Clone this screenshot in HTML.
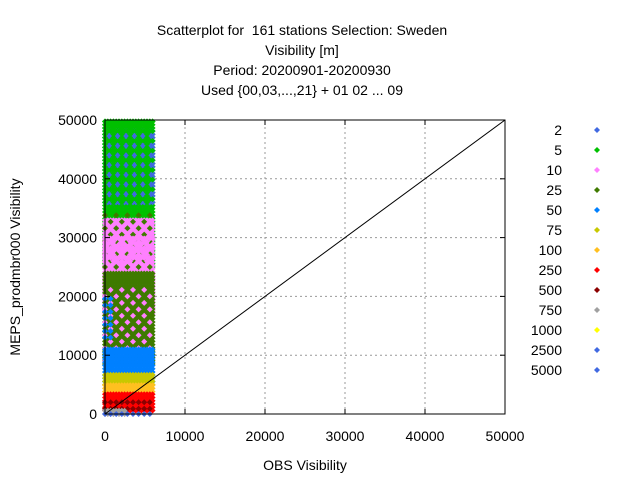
<!DOCTYPE html>
<html><head><meta charset="utf-8"><style>
body{margin:0;background:#fff;}
svg{font-family:"Liberation Sans",sans-serif;font-size:14px;}
text{white-space:pre;}
</style></head><body>
<svg id="chart" width="640" height="480">
<g text-anchor="middle" fill="#000">
<text x="302" y="35" xml:space="preserve">Scatterplot for  161 stations Selection: Sweden</text>
<text x="302" y="55">Visibility [m]</text>
<text x="302" y="75">Period: 20200901-20200930</text>
<text x="302" y="95">Used {00,03,...,21} + 01 02 ... 09</text>
</g>
<g id="grid"></g>
<g id="pts"></g>
<g id="axes"></g>
<text x="305" y="470" text-anchor="middle">OBS Visibility</text>
<text transform="translate(20,267) rotate(-90)" text-anchor="middle">MEPS_prodmbr000 Visibility</text>
<g id="legend"></g>
</svg>
<script>
const ticks = [0,10000,20000,30000,40000,50000];
const categories = ["2","5","10","25","50","75","100","250","500","750","1000","2500","5000"];
const catColors = ["#4169e1","#00c000","#ff80ff","#3f7a00","#0080ff","#c8c800","#ffc020","#ff0000","#8b0000","#a0a0a0","#ffff00","#4169e1","#4169e1"];
// bands drawn in order: category, y-low, y-high, obs x-max, sparsity
const bandCats  = ["5","2","5","10","25","10","25","50","10","50","75","100","250","500","750","2500"];
const bandLow   = [25000,36000,36000,17000,8500,9000,25000,5500,26000,13000,5000,3800,600,900,0,0];
const bandHigh  = [50000,48500,50000,33000,24000,22000,34000,11000,30000,20000,7000,5000,3800,2300,700,300];
const bandXMax  = [6000,6000,6000,6000,6000,6000,6000,6000,6000,1000,6000,6000,6000,6000,2500,6000];
const bandSparse= [1,1,3,1,1,4,4,1,3,2,1,1,1,2,1,2];

const X0=105,X1=505,Y0=414,Y1=120;
const xs=v=>X0+(v/50000)*(X1-X0);
const ys=v=>Y0-(v/50000)*(Y0-Y1);
const NS="http://www.w3.org/2000/svg";
function mk(t,a,p){const e=document.createElementNS(NS,t);for(const k in a)e.setAttribute(k,a[k]);p.appendChild(e);return e;}
const grid=document.getElementById('grid'),axes=document.getElementById('axes'),pts=document.getElementById('pts'),leg=document.getElementById('legend');
ticks.forEach(t=>{
  if(t>0&&t<50000){
    const gl=mk('line',{x1:xs(t),x2:xs(t),y1:Y0,y2:Y1,stroke:'#999','stroke-dasharray':'2,3','stroke-width':1},grid);
    
    
    const gh=mk('line',{x1:X0,x2:X1,y1:ys(t),y2:ys(t),stroke:'#999','stroke-dasharray':'2,3','stroke-width':1},grid);
    
    
  }
  const tx=mk('text',{x:xs(t),y:441,'text-anchor':'middle'},axes);tx.textContent=t;
  
  
  const ty=mk('text',{x:97,y:ys(t)+5,'text-anchor':'end'},axes);ty.textContent=t;
  
  
  mk('line',{x1:xs(t),x2:xs(t),y1:Y0,y2:Y0-5,stroke:'#000'},axes);
  mk('line',{x1:xs(t),x2:xs(t),y1:Y1,y2:Y1+5,stroke:'#000'},axes);
  mk('line',{x1:X0,x2:X0+5,y1:ys(t),y2:ys(t),stroke:'#000'},axes);
  mk('line',{x1:X1,x2:X1-5,y1:ys(t),y2:ys(t),stroke:'#000'},axes);
});
function diamond(cx,cy,col,p,s){s=s||3;return mk('path',{d:`M${cx} ${cy-s}L${cx+s} ${cy}L${cx} ${cy+s}L${cx-s} ${cy}Z`,fill:col},p);}
bandCats.forEach((c,i)=>{
  const col=catColors[categories.indexOf(c)];
  let r=0;
  for(let y=bandLow[i];y<=bandHigh[i];y+=550,r++){
    let k=0;
    for(let x=0;x<=bandXMax[i];x+=350,k++){
      if(bandSparse[i]>1&&((k*5+r*3+k*r)%bandSparse[i])) continue;
      const d=diamond(xs(x),ys(y),col,pts);
      
      
    }
  }
});
const diag=mk('line',{x1:xs(0),y1:ys(0),x2:xs(50000),y2:ys(50000),stroke:'#000','stroke-width':1},axes);


const fr=mk('rect',{x:X0,y:Y1,width:X1-X0,height:Y0-Y1,fill:'none',stroke:'#000','stroke-width':1},axes);


categories.forEach((c,i)=>{
  const y=130+i*20;
  const t=mk('text',{x:562,y:y+5,'text-anchor':'end'},leg);t.textContent=c;
  
  
  const m=diamond(597,y,catColors[i],leg,3);
  
  
});
</script>
</body></html>
